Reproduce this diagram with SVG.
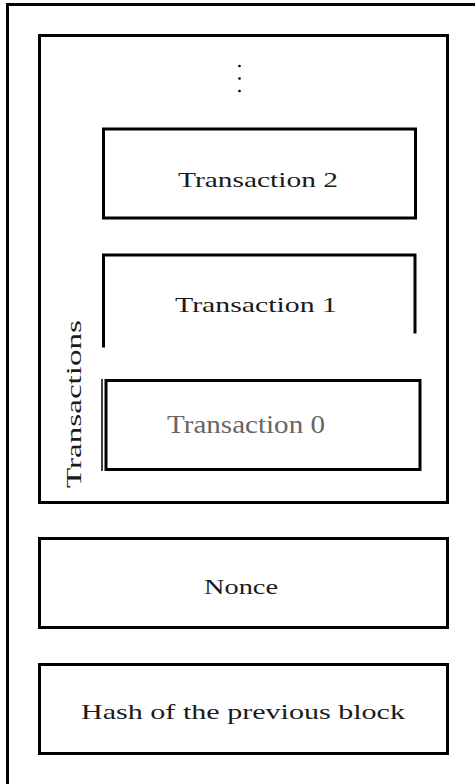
<svg xmlns="http://www.w3.org/2000/svg" width="475" height="784" viewBox="0 0 475 784">
  <style>
    .box { fill: none; stroke: #000; stroke-width: 3; }
    .edge { fill: none; stroke: #000; stroke-width: 3; stroke-linecap: square; }
    .lbl { font-family: "Liberation Serif", "DejaVu Serif", serif; font-size: 22px; fill: #1a1a1a; }
    .lbl0 { font-family: "Liberation Serif", "DejaVu Serif", serif; font-size: 25px; fill: #666; }
  </style>
  <rect width="475" height="784" fill="#fff"/>

  <!-- block frame (left and top edges) -->
  <g id="block">
    <path class="edge" d="M7.5 784 V4.5 H475"/>
  </g>

  <!-- transactions container -->
  <g id="transactions">
    <rect class="box" x="39.5" y="35.5" width="408" height="467"/>
    <text class="lbl" transform="translate(81,488) rotate(-90)" textLength="168" lengthAdjust="spacingAndGlyphs">Transactions</text>
    <circle cx="239.5" cy="66" r="1.3" fill="#000"/>
    <circle cx="239.5" cy="78.5" r="1.3" fill="#000"/>
    <circle cx="239.5" cy="91" r="1.3" fill="#000"/>
  </g>

  <g id="tx2">
    <rect class="box" x="103.5" y="129" width="312" height="89"/>
    <text class="lbl" x="178" y="187" textLength="160" lengthAdjust="spacingAndGlyphs">Transaction 2</text>
  </g>

  <g id="tx1">
    <path class="edge" d="M103.5 346 V255 H415 V332"/>
    <text class="lbl" x="175" y="312" textLength="162" lengthAdjust="spacingAndGlyphs">Transaction 1</text>
  </g>

  <g id="tx0">
    <rect class="box" x="106" y="380.5" width="314" height="89" stroke-width="4"/>
    <line x1="102" y1="379" x2="102" y2="471" stroke="#000" stroke-width="1.5"/>
    <text class="lbl0" x="167" y="433" textLength="158" lengthAdjust="spacingAndGlyphs">Transaction 0</text>
  </g>

  <g id="nonce">
    <rect class="box" x="39.5" y="538.5" width="408" height="89"/>
    <text class="lbl" x="204" y="594" textLength="74" lengthAdjust="spacingAndGlyphs">Nonce</text>
  </g>

  <g id="prev-hash">
    <rect class="box" x="39.5" y="664.5" width="408" height="89"/>
    <text class="lbl" x="81" y="719" textLength="324" lengthAdjust="spacingAndGlyphs">Hash of the previous block</text>
  </g>

  <g id="connectors"/>
</svg>
